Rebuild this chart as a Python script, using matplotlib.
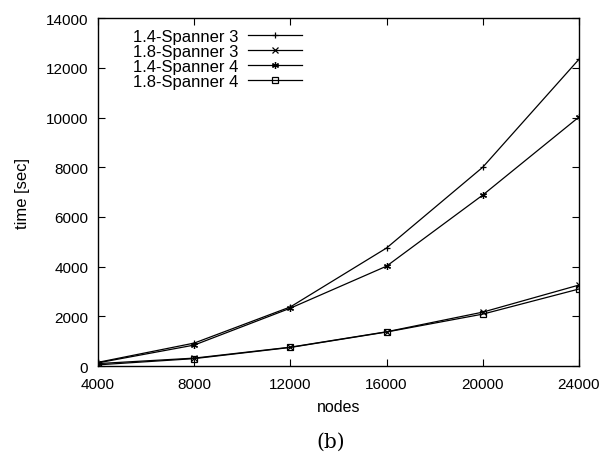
import numpy as np
import matplotlib.pyplot as plt

plt.rcParams['font.family'] = ['Liberation Sans', 'DejaVu Sans']

nodes = [4000, 8000, 12000, 16000, 20000, 24000]
labels = ['1.4-Spanner 3', '1.8-Spanner 3', '1.4-Spanner 4', '1.8-Spanner 4']
t_a = [150, 925, 2380, 4750, 8000, 12340]
t_b = [100, 320, 760, 1380, 2170, 3260]
t_c = [130, 845, 2330, 4020, 6880, 10020]
t_d = [50, 300, 750, 1370, 2090, 3100]
markers = ['+', 'x', (6, 2, 0), 's']

fig = plt.figure(figsize=(6.03, 4.56), dpi=100)
ax = fig.add_axes([0.1625, 0.195, 0.7975, 0.763])

for y, lab, m in zip([t_a, t_b, t_c, t_d], labels, markers):
    ax.plot(nodes, y, color='black', linewidth=0.9, marker=m,
            markersize=5, markeredgewidth=0.9,
            markerfacecolor='none', label=lab)

ax.set_xlim(4000, 24000)
ax.set_ylim(0, 14000)
ax.set_xticks(range(4000, 24001, 4000))
ax.set_yticks(range(0, 14001, 2000))
ax.tick_params(direction='in', top=True, right=True, labelsize=11, length=5)
ax.tick_params(axis='x', pad=8)
ax.tick_params(axis='y', pad=7)
for s in ax.spines.values():
    s.set_linewidth(1.0)

ax.set_xlabel('nodes', fontsize=11.5)
ax.set_ylabel('time [sec]', fontsize=12)
ax.xaxis.set_label_coords(0.5, -0.095)
ax.yaxis.set_label_coords(-0.142, 0.5)

ax.legend(loc='upper left', bbox_to_anchor=(0.05, 1.0), frameon=False,
          markerfirst=False, fontsize=12, handlelength=3.2,
          labelspacing=0.0, handletextpad=0.6, borderaxespad=0.25)

fig.text(0.548, 0.018, '(b)', family='DejaVu Serif', fontsize=14.5, ha='center')

fig.savefig('out.png', dpi=100)
